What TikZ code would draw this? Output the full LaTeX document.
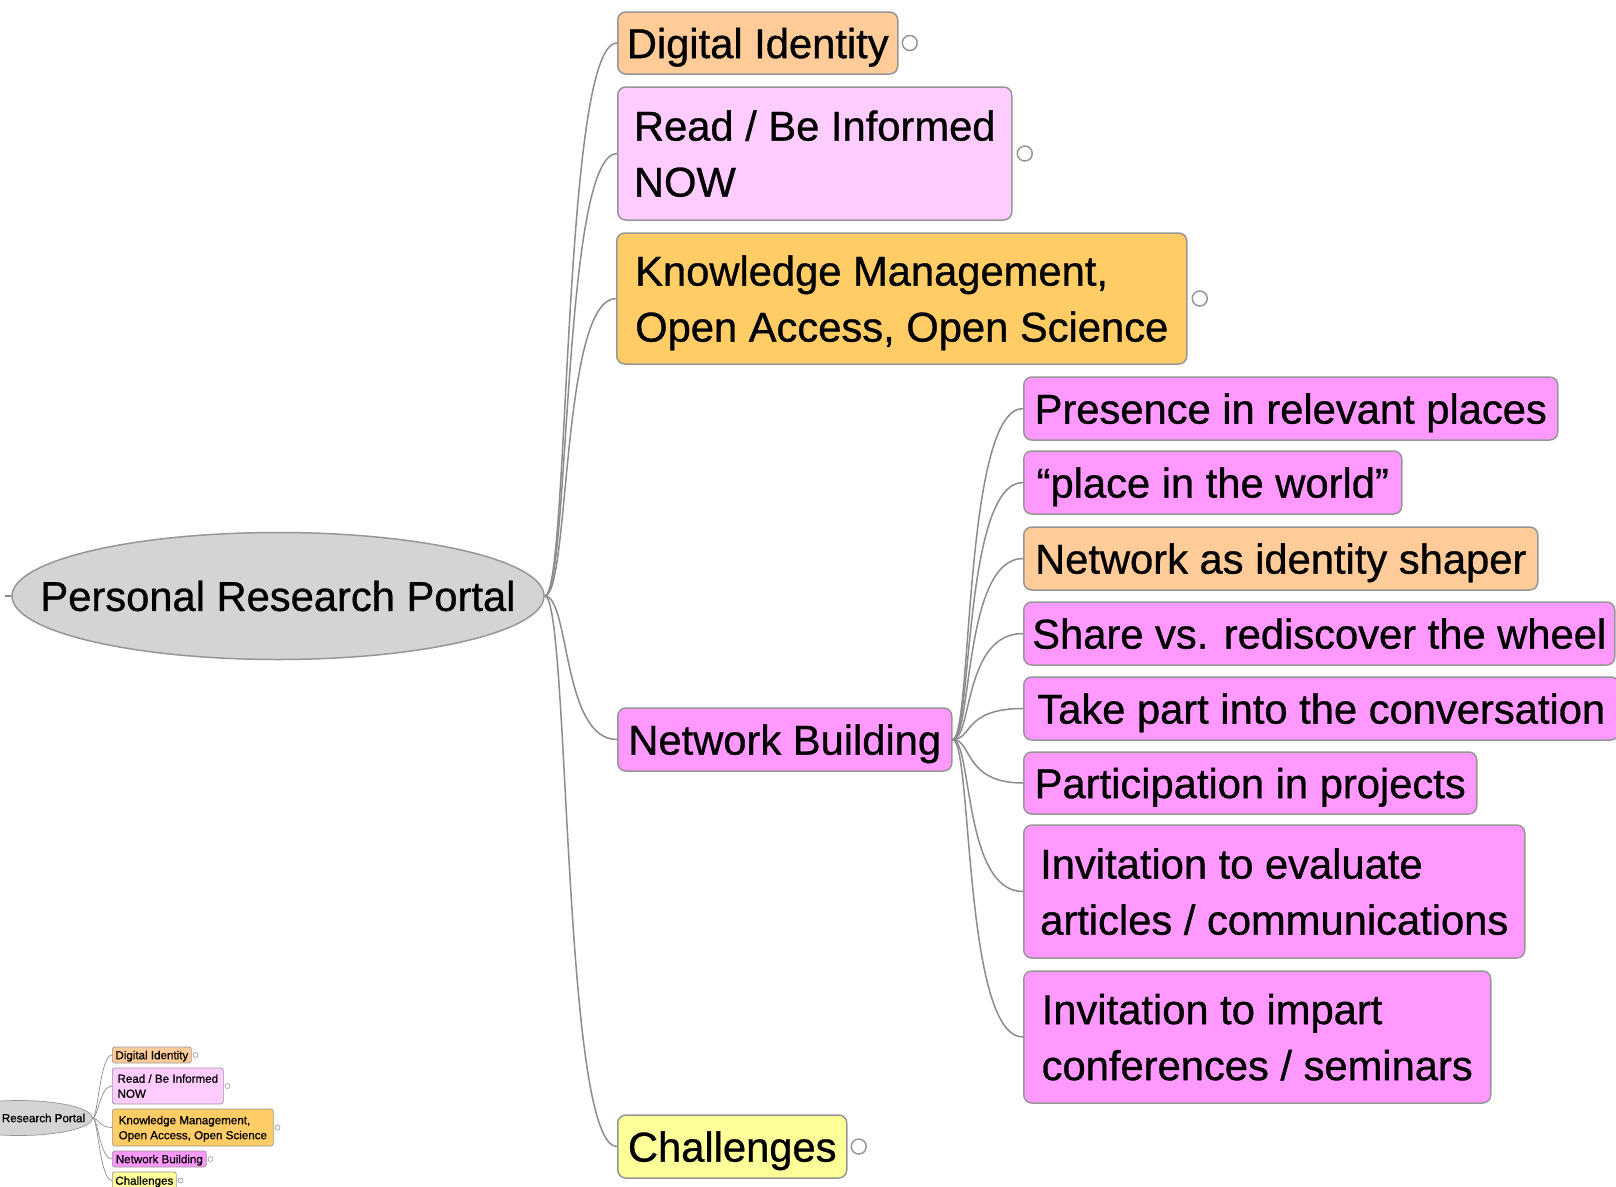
\documentclass[tikz,border=0pt]{standalone}
\usepackage{fontspec}
\setmainfont{Liberation Sans}[FakeBold=0.8]
\usetikzlibrary{shapes.geometric,positioning}
\definecolor{rootgray}{RGB}{212,212,212}
\definecolor{peach}{RGB}{255,204,153}
\definecolor{palepink}{RGB}{255,204,255}
\definecolor{amber}{RGB}{255,204,102}
\definecolor{orchid}{RGB}{255,153,255}
\definecolor{paleyellow}{RGB}{255,255,153}
\definecolor{edgegray}{RGB}{140,140,140}
\definecolor{framegray}{RGB}{150,150,150}
\begin{document}
\begin{tikzpicture}[x=1pt,y=-1pt,
  topic/.style={draw=framegray, line width=1.5pt, rounded corners=8pt, anchor=west,
    inner sep=0pt, align=left, text depth=0pt, font=\fontsize{41.7}{56}\selectfont},
  minitopic/.style={draw=framegray, line width=0.7pt, rounded corners=2.5pt, anchor=west,
    inner sep=0pt, align=left, text depth=0pt, font=\fontsize{11.6}{15}\selectfont},
  knob/.style={circle, draw=framegray, fill=white, line width=1.5pt, minimum size=15pt, inner sep=0pt},
  miniknob/.style={circle, draw=framegray, fill=white, line width=0.6pt, minimum size=5pt, inner sep=0pt},
  branch/.style={draw=edgegray, line width=1.5pt},
  minibranch/.style={draw=edgegray, line width=0.7pt}]
\useasboundingbox (0,0) rectangle (1616,1186);
\clip (0,0) rectangle (1616,1186);

\node (root) at (278,596) [ellipse, draw=framegray, fill=rootgray, line width=1.5pt,
  minimum width=532pt, minimum height=127pt, inner sep=0pt,
  font=\fontsize{41.7}{56}\selectfont] {\makebox[0pt]{Personal Research Portal}};
\coordinate (stub) at (5,596);
\draw[branch] (root.west) -- (stub);

\node (dig) at (617,43) [topic, fill=peach, minimum width=280pt, minimum height=62pt] {Digital Identity};
\node (read) at (617,153.5) [topic, fill=palepink, minimum width=394pt, minimum height=133pt] {Read / Be Informed\\NOW};
\node (know) at (616,298.5) [topic, fill=amber, minimum width=570pt, minimum height=131pt] {Knowledge Management,\\Open Access, Open Science};
\node (net) at (617,739.5) [topic, fill=orchid, minimum width=334pt, minimum height=63pt] {Network Building};
\node (chal) at (617,1146.5) [topic, fill=paleyellow, minimum width=229pt, minimum height=63pt] {Challenges};

\node[knob, right=3pt of dig] (digknob) {};
\node[knob, right=4pt of read] (readknob) {};
\node[knob, right=4pt of know] (knowknob) {};
\node[knob, right=3pt of chal] (chalknob) {};

\foreach \c in {dig,read,know,net,chal}
  \draw[branch] (root.east) .. controls +(25,0) and +(-55,0) .. (\c.west);

\node (pres) at (1023,408.5) [topic, fill=orchid, minimum width=534pt, minimum height=63pt] {Presence in relevant places};
\node (place) at (1023,482.5) [topic, fill=orchid, minimum width=378pt, minimum height=63pt] {“place in the world”};
\node (shaper) at (1023,558.5) [topic, fill=peach, minimum width=514pt, minimum height=63pt] {Network as identity shaper};
\node (share) at (1023,633.5) [topic, fill=orchid, minimum width=591pt, minimum height=63pt] {Share vs. rediscover the wheel};
\node (take) at (1023,708.5) [topic, fill=orchid, minimum width=595pt, minimum height=63pt] {Take part into the conversation};
\node (part) at (1023,783) [topic, fill=orchid, minimum width=453pt, minimum height=62pt] {Participation in projects};
\node (eval) at (1023,891.5) [topic, fill=orchid, minimum width=501pt, minimum height=133pt] {Invitation to evaluate\\articles / communications};
\node (impart) at (1023,1037) [topic, fill=orchid, minimum width=467pt, minimum height=132pt] {Invitation to impart\\conferences / seminars};

\foreach \c in {pres,place,shaper,share,take,part,eval,impart}
  \draw[branch] (net.east) .. controls +(20,0) and +(-60,0) .. (\c.west);

% overview
\node (mroot) at (19,1118) [ellipse, draw=framegray, fill=rootgray, line width=0.7pt,
  minimum width=147pt, minimum height=35pt, inner sep=0pt,
  font=\fontsize{11.6}{15}\selectfont] {\makebox[0pt]{Personal Research Portal}};
\node (mdig) at (112,1055) [minitopic, fill=peach, minimum width=79pt, minimum height=16pt] {Digital Identity};
\node (mread) at (112,1086) [minitopic, fill=palepink, minimum width=111pt, minimum height=36pt] {Read / Be Informed\\NOW};
\node (mknow) at (112,1127.5) [minitopic, fill=amber, minimum width=161pt, minimum height=37pt] {Knowledge Management,\\Open Access, Open Science};
\node (mnet) at (112,1159) [minitopic, fill=orchid, minimum width=94pt, minimum height=16pt] {Network Building};
\node (mchal) at (112,1180.5) [minitopic, fill=paleyellow, minimum width=64pt, minimum height=17pt] {Challenges};

\foreach \c in {mdig,mread,mknow,mnet,mchal}
  \node[miniknob, right=1pt of \c] (\c knob) {};

\foreach \c in {mdig,mread,mknow,mnet,mchal}
  \draw[minibranch] (mroot.east) .. controls +(5,0) and +(-12,0) .. (\c.west);
\end{tikzpicture}
\end{document}
